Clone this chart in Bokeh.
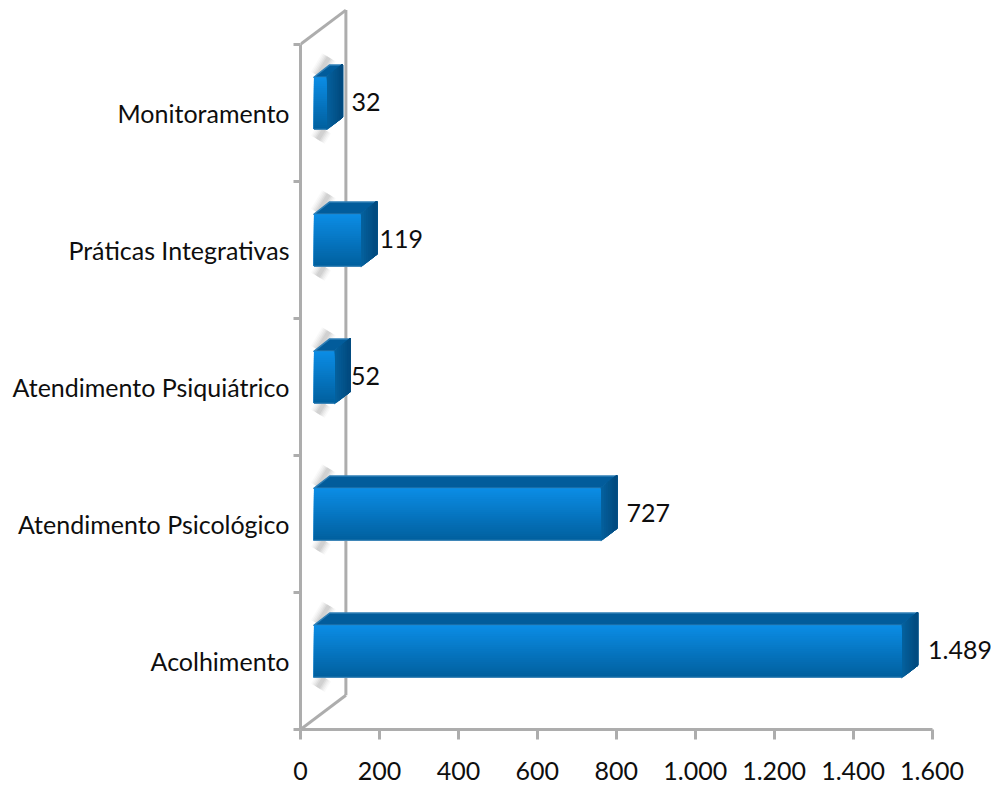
from bokeh.core.properties import value
from bokeh.embed import file_html
from bokeh.models import FixedTicker, Range1d
from bokeh.plotting import figure
from bokeh.resources import INLINE

categories = ["Acolhimento", "Atendimento Psicológico", "Atendimento Psiquiátrico",
              "Práticas Integrativas", "Monitoramento"]
values = [1489, 727, 52, 119, 32]
value_labels = ["1.489", "727", "52", "119", "32"]
x_ticks = [0, 200, 400, 600, 800, 1000, 1200, 1400, 1600]
x_tick_labels = ["0", "200", "400", "600", "800", "1.000", "1.200", "1.400", "1.600"]

FONT = "Lato"
AXIS_GREY = "#adadad"
TEXT = "#0e0e0e"

# Pseudo-3D box geometry, in data units
BASE_X = 34        # gap between the axis and the front face
DEPTH_X = 40       # horizontal run of the side and top faces
DEPTH_Y = 0.09     # vertical rise of the side and top faces
BOX_LOW = 0.38     # bottom of the front face inside a category band
BOX_HIGH = 0.76    # top of the front face inside a category band
WALL_X = 115       # back wall offset of the chart floor
WALL_Y = 0.25
LABEL_GAP = [27, 25, 2, 7, 23]  # gap between each box and its value label


def mix(a, b, t):
    ca = [int(a[i:i + 2], 16) for i in (1, 3, 5)]
    cb = [int(b[i:i + 2], 16) for i in (1, 3, 5)]
    return "#%02x%02x%02x" % tuple(round(u + (v - u) * t) for u, v in zip(ca, cb))


p = figure(width=991, height=785, output_backend="svg", toolbar_location=None,
           x_range=Range1d(0, 1750.6), y_range=Range1d(0, 5.32),
           min_border_left=300, min_border_right=0, min_border_top=0, min_border_bottom=56,
           outline_line_color=None, background_fill_color="white", border_fill_color="white")
p.grid.visible = False

# Chart walls behind the boxes
p.line([0, WALL_X], [0, WALL_Y], line_color=AXIS_GREY, line_width=3)
p.line([WALL_X, WALL_X], [WALL_Y, 5 + WALL_Y], line_color=AXIS_GREY, line_width=3)
p.line([0, WALL_X], [5, 5 + WALL_Y], line_color=AXIS_GREY, line_width=3)

# Soft shadows falling on the back wall at the root of each box
for width, alpha in [(16, 0.05), (13, 0.07), (10, 0.09), (7, 0.12), (4, 0.14)]:
    xs, ys = [], []
    for i in range(len(values)):
        xs.append([BASE_X + 10, BASE_X + 38])
        ys.append([i + BOX_HIGH + 0.01, i + BOX_HIGH + 0.145])
        xs.append([BASE_X + 10, BASE_X + 26])
        ys.append([i + BOX_LOW - 0.075, i + BOX_LOW])
    p.multi_line(xs, ys, line_color="#8c8c8c", line_alpha=alpha, line_width=width)

front_top = "#0b8ce4"
front_bottom = "#01609f"
STRIPS = 24

for i, v in enumerate(values):
    x0, x1 = BASE_X, BASE_X + v
    low, high = i + BOX_LOW, i + BOX_HIGH

    # Top face
    p.patch([x0, x1, x1 + DEPTH_X, x0 + DEPTH_X],
            [high, high, high + DEPTH_Y, high + DEPTH_Y],
            fill_color="#025c9b", line_color="#2f7fb6", line_width=1.5, line_join="round")

    # Side face, darkening towards the back
    for k in range(8):
        a = DEPTH_X * k / 8
        t = k / 7
        shade = mix("#05629f", "#024b80", t)
        p.patch([x1 + a, x1 + DEPTH_X, x1 + DEPTH_X, x1 + a],
                [high + DEPTH_Y * k / 8, high + DEPTH_Y, low + DEPTH_Y, low + DEPTH_Y * k / 8],
                fill_color=shade, line_color=shade, line_width=1.5, line_join="round")

    # Front face: each band runs down to the bottom edge so no seams appear
    for k in range(STRIPS):
        t = k / (STRIPS - 1)
        top = high - (high - low) * k / STRIPS
        p.quad(left=x0, right=x1, top=top, bottom=low,
               fill_color=mix(front_top, front_bottom, t), line_color=None)
    p.segment(x0, low, x1, low, line_color="#3f86b8", line_width=1.2)

p.text(x=[v + BASE_X + DEPTH_X + g for v, g in zip(values, LABEL_GAP)],
       y=[i + (BOX_LOW + BOX_HIGH) / 2 + 0.008 for i in range(len(values))],
       text=value_labels, text_font=value(FONT), text_font_size="25px",
       text_color=TEXT, text_baseline="middle", text_align="left")

p.xaxis.ticker = FixedTicker(ticks=x_ticks)
p.xaxis.major_label_overrides = dict(zip(x_ticks, x_tick_labels))
p.xaxis.bounds = (0, 1600)
p.xaxis.major_tick_in = 0
p.xaxis.major_tick_out = 10
p.xaxis.minor_tick_line_color = None
p.xaxis.major_label_standoff = 22

centers = [i + 0.5 for i in range(len(categories))]
p.yaxis.ticker = FixedTicker(ticks=centers, minor_ticks=list(range(6)))
p.yaxis.major_label_overrides = dict(zip(centers, categories))
p.yaxis.bounds = (0, 5)
p.yaxis.major_tick_line_color = None
p.yaxis.minor_tick_in = 0
p.yaxis.minor_tick_out = 7
p.yaxis.minor_tick_line_color = AXIS_GREY
p.yaxis.minor_tick_line_width = 3
p.yaxis.major_label_standoff = 4

for ax in (p.xaxis[0], p.yaxis[0]):
    ax.axis_line_color = AXIS_GREY
    ax.axis_line_width = 3
    ax.major_label_text_font = FONT
    ax.major_label_text_font_size = "25px"
    ax.major_label_text_color = TEXT
p.xaxis.major_tick_line_color = AXIS_GREY
p.xaxis.major_tick_line_width = 3

open("out.html", "w").write(file_html(p, INLINE))
